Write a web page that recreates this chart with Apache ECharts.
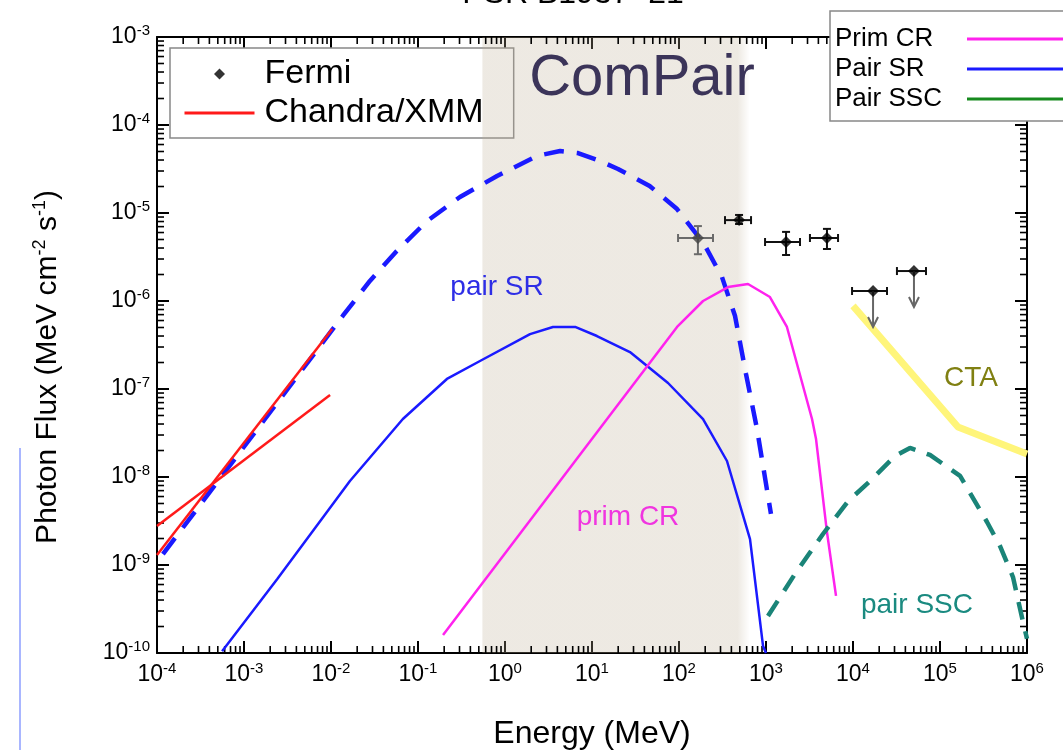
<!DOCTYPE html>
<html>
<head>
<meta charset="utf-8">
<script src="https://cdn.jsdelivr.net/npm/echarts@6/dist/echarts.min.js"></script>
<style>
  html, body { margin: 0; padding: 0; background: #fff; }
  #chart { width: 1063px; height: 750px; }
</style>
</head>
<body>
<div id="chart"></div>
<script>
// Spectral energy distribution of PSR B1937+21.
// Each curve: [energy (MeV), photon flux (MeV cm^-2 s^-1)]
const chandraSteep = [[1e-4, 1.3e-9], [1.03e-2, 4.8e-7]];
const chandraShallow = [[1e-4, 2.77e-9], [9.75e-3, 8.55e-8]];

const pairSrSolid = [
  [5.6e-4, 1.05e-10], [2.4e-3, 6.9e-10], [1.65e-2, 9.0e-9], [6.7e-2, 4.56e-8],
  [0.215, 1.3e-7], [0.516, 2.08e-7], [1.94, 4.2e-7], [3.56, 5.07e-7],
  [6.4, 5.07e-7], [11.4, 4.0e-7], [27.3, 2.63e-7], [74.8, 1.17e-7],
  [189, 4.56e-8], [356, 1.52e-8], [655, 1.97e-9], [925, 1.2e-10], [1000, 1e-10]
];

const pairSrDashed = [
  [1.17e-4, 1.33e-9], [1.37e-2, 6.8e-7], [2.8e-2, 1.69e-6], [5.7e-2, 3.7e-6],
  [0.127, 8.1e-6], [0.304, 1.52e-5], [0.81, 2.63e-5], [2.33, 4.45e-5],
  [4.3, 5.07e-5], [6.9, 4.8e-5], [12.4, 3.9e-5], [19.9, 3.16e-5],
  [46, 2.03e-5], [95, 1.11e-5], [194, 4.45e-6], [312, 1.87e-6],
  [440, 6.8e-7], [589, 1.48e-7], [789, 3.5e-8], [1140, 3.8e-9]
];

const primCr = [
  [0.194, 1.6e-10], [14.9, 4.56e-8], [95, 5.07e-7], [189, 1.0e-6],
  [366, 1.44e-6], [621, 1.56e-6], [1110, 1.11e-6], [1740, 5.07e-7],
  [3380, 4.56e-8], [3760, 2.7e-8], [5020, 2.37e-9], [6380, 4.45e-10]
];

const pairSsc = [
  [1054, 2.63e-10], [2150, 7.9e-10], [4520, 2.25e-9], [8770, 5.3e-9],
  [15700, 9.0e-9], [30400, 1.73e-8], [45200, 2.14e-8], [76700, 1.78e-8],
  [1.7e5, 1.03e-8], [3.47e5, 3.08e-9], [4.9e5, 1.64e-9], [6.9e5, 7.3e-10],
  [9.0e5, 2.25e-10], [1e6, 1.45e-10]
];

const ctaSensitivity = [[1e4, 8.8e-7], [1.61e5, 3.7e-8], [1e6, 1.82e-8]];

// Fermi-LAT spectral points (last two are upper limits)
const fermiE        = [165, 490, 1700, 5020, 17000, 50200];
const fermiFlux     = [5.2e-6, 8.3e-6, 4.68e-6, 5.2e-6, 1.3e-6, 2.19e-6];
const fermiElo      = [97.5, 338, 975, 3200, 9750, 32000];
const fermiEhi      = [246, 673, 2460, 6730, 24600, 69000];
const fermiFlo      = [3.4e-6, 7.5e-6, 3.33e-6, 3.9e-6, null, null];
const fermiFhi      = [7.1e-6, 9.5e-6, 6.1e-6, 6.6e-6, null, null];
const fermiUpperLim = [false, false, false, false, true, true];

// ComPair energy band (MeV)
const compairBand = [0.55, 650];

// Axis decades
const xTickExponents = [-4, -3, -2, -1, 0, 1, 2, 3, 4, 5, 6];
const yTickExponents = [-10, -9, -8, -7, -6, -5, -4, -3];

const FONT = '"Liberation Sans", Arial, Helvetica, sans-serif';

// minor ticks at 2..9 within each decade
const minorTicks = [];
for (let i = 0; i < xTickExponents.length - 1; i++) {
  for (let m = 2; m <= 9; m++) minorTicks.push([m * Math.pow(10, xTickExponents[i]), 0]);
}
for (let i = 0; i < yTickExponents.length - 1; i++) {
  for (let m = 2; m <= 9; m++) minorTicks.push([m * Math.pow(10, yTickExponents[i]), 1]);
}

function powLabel(list) {
  return function (v) {
    const e = Math.round(Math.log10(v));
    return list.includes(e) ? '{b|10}{s|' + e + '}' : '';
  };
}
const tickRich = {
  b: { fontSize: 23, fontFamily: FONT, color: '#000', lineHeight: 27 },
  s: { fontSize: 15, fontFamily: FONT, color: '#000', verticalAlign: 'top', lineHeight: 15 }
};

const chart = echarts.init(document.getElementById('chart'), null, { renderer: 'canvas' });

function lineSeries(name, data, color, width, type, z) {
  return {
    type: 'line', name: name, data: data, symbol: 'none', silent: true,
    z: z || 3, animation: false,
    lineStyle: { color: color, width: width, type: type || 'solid' },
    itemStyle: { color: color }
  };
}

// legend entry drawn as a plain solid line
function legendLine(name, color) {
  return { name: name, lineStyle: { color: color, width: 3, type: 'solid' }, itemStyle: { opacity: 0 } };
}

const option = {
  animation: false,
  backgroundColor: '#fff',
  grid: { left: 157, right: 36, top: 37, bottom: 97, containLabel: false, outerBoundsMode: 'none' },
  xAxis: [{
    type: 'log', logBase: 10, min: 1e-4, max: 1e6, interval: 1, splitNumber: 10,
    position: 'bottom',
    axisLine: { show: true, onZero: false, lineStyle: { color: '#000', width: 2 } },
    axisTick: { show: true, inside: true, length: 12, lineStyle: { color: '#000', width: 2 } },
    axisLabel: { show: true, margin: 8, formatter: powLabel(xTickExponents), rich: tickRich },
    splitLine: { show: false },
    name: 'Energy (MeV)', nameLocation: 'middle', nameGap: 65,
    nameTextStyle: { fontSize: 32, color: '#000', fontFamily: FONT }
  }, {
    type: 'log', logBase: 10, min: 1e-4, max: 1e6, interval: 1, splitNumber: 10,
    position: 'top',
    axisLine: { show: true, onZero: false, lineStyle: { color: '#000', width: 2 } },
    axisTick: { show: true, inside: true, length: 12, lineStyle: { color: '#000', width: 2 } },
    axisLabel: { show: false },
    splitLine: { show: false }
  }],
  yAxis: [{
    type: 'log', logBase: 10, min: 1e-10, max: 1e-3, interval: 1, splitNumber: 7,
    position: 'left',
    axisLine: { show: true, onZero: false, lineStyle: { color: '#000', width: 2 } },
    axisTick: { show: true, inside: true, length: 12, lineStyle: { color: '#000', width: 2 } },
    axisLabel: { show: true, margin: 7, formatter: powLabel(yTickExponents), rich: tickRich },
    splitLine: { show: false },
    name: '{t|Photon Flux (MeV cm}{s|-2}{t| s}{s|-1}{t|)}',
    nameLocation: 'middle', nameGap: 92,
    nameTextStyle: {
      color: '#000', padding: [0, 44, 0, 0],
      rich: {
        t: { fontSize: 30, fontFamily: FONT, color: '#000', lineHeight: 34 },
        s: { fontSize: 18, fontFamily: FONT, color: '#000', verticalAlign: 'top', lineHeight: 18 }
      }
    }
  }, {
    type: 'log', logBase: 10, min: 1e-10, max: 1e-3, interval: 1, splitNumber: 7,
    position: 'right',
    axisLine: { show: true, onZero: false, lineStyle: { color: '#000', width: 2 } },
    axisTick: { show: true, inside: true, length: 12, lineStyle: { color: '#000', width: 2 } },
    axisLabel: { show: false },
    splitLine: { show: false }
  }],
  legend: [{
    z: 0.5,
    orient: 'vertical', left: 170, top: 48,
    selectedMode: false,
    symbolKeepAspect: true,
    data: [
      { name: 'Fermi', icon: 'path://M0,-6L6,0L0,6L-6,0Z', itemStyle: { color: '#000' } },
      legendLine('Chandra/XMM', '#ff1a1a')
    ],
    itemWidth: 70, itemHeight: 11, itemGap: 5,
    padding: [9, 30, 8, 13],
    backgroundColor: '#fff', borderColor: '#888', borderWidth: 1.5,
    textStyle: { fontSize: 34, lineHeight: 34, fontFamily: FONT, color: '#000', padding: [0, 0, 0, 5] }
  }, {
    z: 6,
    orient: 'vertical', align: 'right', left: 830, top: 11,
    selectedMode: false,
    data: [
      legendLine('Prim CR', '#ff22ee'),
      legendLine('Pair SR', '#1a1aff'),
      legendLine('Pair SSC', '#168a1e')
    ],
    itemWidth: 120, itemHeight: 12, itemGap: 4,
    padding: [15, 0, 9, 5],
    backgroundColor: '#fff', borderColor: '#888', borderWidth: 1.5,
    formatter: function (name) { return '{n|' + name + '}'; },
    textStyle: {
      rich: { n: { width: 127, align: 'left', fontSize: 26, lineHeight: 30, fontFamily: FONT, color: '#000' } }
    }
  }],
  graphic: [
    { type: 'text', z: 10, style: { x: 573, y: 10, text: 'PSR B1937+21', align: 'center', verticalAlign: 'bottom', font: '32px ' + FONT, fill: '#000' } },
    { type: 'text', z: 10, style: { x: 642, y: 79, text: 'ComPair', align: 'center', verticalAlign: 'middle', font: '58px ' + FONT, fill: '#3b3459' } },
    { type: 'text', z: 10, style: { x: 497, y: 287, text: 'pair SR', align: 'center', verticalAlign: 'middle', font: '28px ' + FONT, fill: '#2e2ee6' } },
    { type: 'text', z: 10, style: { x: 628, y: 517, text: 'prim CR', align: 'center', verticalAlign: 'middle', font: '28px ' + FONT, fill: '#f035e0' } },
    { type: 'text', z: 10, style: { x: 917, y: 605, text: 'pair SSC', align: 'center', verticalAlign: 'middle', font: '28px ' + FONT, fill: '#1a8a80' } },
    { type: 'text', z: 10, style: { x: 971, y: 378, text: 'CTA', align: 'center', verticalAlign: 'middle', font: '28px ' + FONT, fill: '#808012' } },
    { type: 'line', z: 10, shape: { x1: 20, y1: 448, x2: 20, y2: 750 }, style: { stroke: '#a9b6ff', lineWidth: 2 } }
  ],
  series: [
    // ComPair band shading
    {
      type: 'line', name: 'ComPair band', data: [], silent: true, z: 1, symbol: 'none',
      markArea: {
        silent: true,
        itemStyle: {
          color: {
            type: 'linear', x: 0, y: 0, x2: 1, y2: 0,
            colorStops: [
              { offset: 0, color: 'rgba(190,175,150,0.27)' },
              { offset: 0.955, color: 'rgba(190,175,150,0.27)' },
              { offset: 1, color: 'rgba(190,175,150,0)' }
            ]
          }
        },
        data: [[{ xAxis: compairBand[0] }, { xAxis: compairBand[1] }]]
      }
    },
    lineSeries('Pair SR', pairSrSolid, '#1a1aff', 2.5, 'solid', 3),
    lineSeries('Pair SR', pairSrDashed, '#1a1aff', 4.5, [20, 13], 3),
    lineSeries('Prim CR', primCr, '#ff22ee', 2.5, 'solid', 3),
    lineSeries('Pair SSC', pairSsc, '#1a8478', 4.5, [18, 12], 3),
    lineSeries('CTA', ctaSensitivity, '#fff57a', 7, 'solid', 3),
    lineSeries('Chandra/XMM', chandraSteep, '#ff1a1a', 2.5, 'solid', 4),
    lineSeries('Chandra/XMM', chandraShallow, '#ff1a1a', 2.5, 'solid', 4),
    // Fermi error bars and upper-limit arrows
    {
      type: 'custom', name: 'Fermi bars', silent: true, z: 5,
      data: fermiE.map(function (e, i) {
        return [e, fermiFlux[i], fermiElo[i], fermiEhi[i],
                fermiFlo[i] || fermiFlux[i], fermiFhi[i] || fermiFlux[i], fermiUpperLim[i] ? 1 : 0, i];
      }),
      renderItem: function (params, api) {
        const x = api.value(0), y = api.value(1);
        const p = api.coord([x, y]);
        const pl = api.coord([api.value(2), y]);
        const ph = api.coord([api.value(3), y]);
        const col = api.value(7) === 0 ? '#6a6a6a' : '#111';
        const st = { stroke: col, lineWidth: 2 };
        const c = 4;
        const kids = [
          { type: 'line', shape: { x1: pl[0], y1: p[1], x2: ph[0], y2: p[1] }, style: st },
          { type: 'line', shape: { x1: pl[0], y1: p[1] - c, x2: pl[0], y2: p[1] + c }, style: st },
          { type: 'line', shape: { x1: ph[0], y1: p[1] - c, x2: ph[0], y2: p[1] + c }, style: st }
        ];
        if (api.value(6) === 1) {
          const tip = p[1] + 36;
          const ast = { stroke: '#666', lineWidth: 2, fill: null };
          kids.push({ type: 'line', shape: { x1: p[0], y1: p[1], x2: p[0], y2: tip }, style: ast });
          kids.push({ type: 'polyline', shape: { points: [[p[0] - 5, tip - 10], [p[0], tip], [p[0] + 5, tip - 10]] }, style: ast });
        } else {
          const lo = api.coord([x, api.value(4)]);
          const hi = api.coord([x, api.value(5)]);
          kids.push({ type: 'line', shape: { x1: p[0], y1: lo[1], x2: p[0], y2: hi[1] }, style: st });
          kids.push({ type: 'line', shape: { x1: p[0] - c, y1: lo[1], x2: p[0] + c, y2: lo[1] }, style: st });
          kids.push({ type: 'line', shape: { x1: p[0] - c, y1: hi[1], x2: p[0] + c, y2: hi[1] }, style: st });
        }
        return { type: 'group', children: kids };
      }
    },
    {
      type: 'scatter', name: 'Fermi', symbol: 'diamond', symbolSize: 12, z: 6, silent: true,
      itemStyle: { color: '#000' },
      data: fermiE.map(function (e, i) {
        return i === 0 ? { value: [e, fermiFlux[i]], itemStyle: { color: '#444' } } : [e, fermiFlux[i]];
      })
    },
    // log minor ticks on all four sides
    {
      type: 'custom', name: 'minor ticks', silent: true, z: 2, clip: false,
      data: minorTicks,
      renderItem: function (params, api) {
        const cs = params.coordSys;
        const v = api.value(0);
        const L = 7;
        const st = { stroke: '#000', lineWidth: 1.6 };
        if (api.value(1) === 0) {
          const x = api.coord([v, 1e-6])[0];
          const yb = cs.y + cs.height, yt = cs.y;
          return { type: 'group', children: [
            { type: 'line', shape: { x1: x, y1: yb, x2: x, y2: yb - L }, style: st },
            { type: 'line', shape: { x1: x, y1: yt, x2: x, y2: yt + L }, style: st }
          ] };
        }
        const y = api.coord([1, v])[1];
        const xl = cs.x, xr = cs.x + cs.width;
        return { type: 'group', children: [
          { type: 'line', shape: { x1: xl, y1: y, x2: xl + L, y2: y }, style: st },
          { type: 'line', shape: { x1: xr, y1: y, x2: xr - L, y2: y }, style: st }
        ] };
      }
    }
  ]
};

chart.setOption(option);
</script>
</body>
</html>
